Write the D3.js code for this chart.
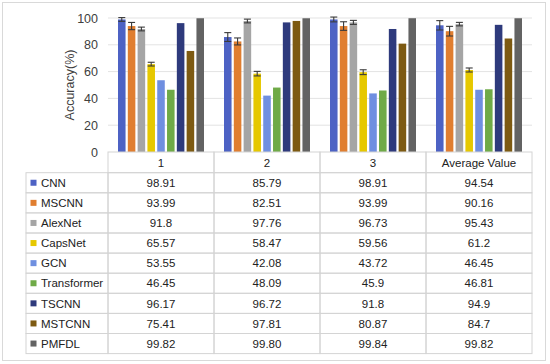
<!DOCTYPE html>
<html><head><meta charset="utf-8">
<script src="https://cdn.jsdelivr.net/npm/d3@7"></script>
<style>body{margin:0;background:#fff}svg{display:block}</style>
</head><body>
<svg id="c" width="550" height="364"></svg>
<script>
const categories = ["1", "2", "3", "Average Value"];
const seriesNames = ["CNN", "MSCNN", "AlexNet", "CapsNet", "GCN", "Transformer", "TSCNN", "MSTCNN", "PMFDL"];
const valueLabels = [
  ["98.91", "85.79", "98.91", "94.54"],
  ["93.99", "82.51", "93.99", "90.16"],
  ["91.8", "97.76", "96.73", "95.43"],
  ["65.57", "58.47", "59.56", "61.2"],
  ["53.55", "42.08", "43.72", "46.45"],
  ["46.45", "48.09", "45.9", "46.81"],
  ["96.17", "96.72", "91.8", "94.9"],
  ["75.41", "97.81", "80.87", "84.7"],
  ["99.82", "99.80", "99.84", "99.82"]
];
const errors = [
  [1.4, 3.3, 1.8, 3.5],
  [2.7, 2.6, 3.2, 3.6],
  [1.4, 1.4, 1.5, 1.3],
  [1.4, 1.7, 1.8, 1.5],
  [0, 0, 0, 0], [0, 0, 0, 0], [0, 0, 0, 0], [0, 0, 0, 0], [0, 0, 0, 0]
];
const yTicks = [0, 20, 40, 60, 80, 100];
const colors = ["#4d62c4", "#e07e30", "#a5a5a5", "#e6c800", "#6f8fe0", "#6faa47", "#2e3a7c", "#7d5a12", "#636363"];

(function () {
const svg = d3.select("#c");
const font = "'Liberation Sans', Arial, sans-serif";

svg.append("rect").attr("x", 2.5).attr("y", 2.5).attr("width", 543).attr("height", 358)
  .attr("fill", "none").attr("stroke", "#d9d9d9");

const pLeft = 108, pRight = 532, pTop = 18, base = 152;
const x0 = d3.scaleBand().domain(categories).range([pLeft, pRight]).padding(0);
const x1 = d3.scaleBand().domain(seriesNames).range([10, 96]).paddingInner(0.23).paddingOuter(0);
const y = d3.scaleLinear().domain([0, 100]).range([base, pTop]);

svg.append("g").selectAll("line").data(yTicks.filter(d => d > 0)).join("line")
  .attr("x1", pLeft).attr("x2", pRight).attr("y1", d => y(d)).attr("y2", d => y(d))
  .attr("stroke", "#e3e3e3").attr("stroke-width", 1);

const yAxis = d3.axisLeft(y).tickValues(yTicks).tickSize(0).tickPadding(10);
const ga = svg.append("g").attr("transform", `translate(${pLeft},0)`).call(yAxis);
ga.select(".domain").remove();
ga.selectAll("text").attr("font-family", font).attr("font-size", 12.5).attr("fill", "#404040");

svg.append("text").attr("transform", `translate(74,${(pTop + base) / 2}) rotate(-90)`)
  .attr("text-anchor", "middle").attr("font-family", font).attr("font-size", 12.5)
  .attr("fill", "#404040").text("Accuracy(%)");

const data = [];
seriesNames.forEach((s, i) => categories.forEach((c, j) => {
  data.push({ s, c, v: +valueLabels[i][j], e: errors[i][j], i });
}));
svg.append("g").selectAll("rect").data(data).join("rect")
  .attr("x", d => x0(d.c) + x1(d.s)).attr("width", x1.bandwidth())
  .attr("y", d => y(d.v)).attr("height", d => base - y(d.v))
  .attr("fill", d => colors[d.i]);

const eb = svg.append("g").attr("stroke", "#3a3a3a").attr("stroke-width", 1.1);
data.filter(d => d.e > 0).forEach(d => {
  const cx = x0(d.c) + x1(d.s) + x1.bandwidth() / 2;
  const y1 = y(d.v + d.e), y2 = y(d.v - d.e);
  eb.append("line").attr("x1", cx).attr("x2", cx).attr("y1", y1).attr("y2", y2);
  eb.append("line").attr("x1", cx - 3.5).attr("x2", cx + 3.5).attr("y1", y1).attr("y2", y1);
  eb.append("line").attr("x1", cx - 3.5).attr("x2", cx + 3.5).attr("y1", y2).attr("y2", y2);
});

const rowH = 20.1, headTop = base, headH = 20.7;
const tabTop = headTop + headH;
const legLeft = 26;
const tg = svg.append("g").attr("font-family", font).attr("font-size", 11.5).attr("fill", "#222");
const stroke = "#d4d4d4";
categories.forEach(c => {
  tg.append("rect").attr("x", x0(c)).attr("y", headTop).attr("width", x0.bandwidth()).attr("height", headH)
    .attr("fill", "none").attr("stroke", stroke);
  tg.append("text").attr("x", x0(c) + x0.bandwidth() / 2).attr("y", headTop + 14.5)
    .attr("text-anchor", "middle").text(c);
});
seriesNames.forEach((s, i) => {
  const ry = tabTop + i * rowH;
  tg.append("rect").attr("x", legLeft).attr("y", ry).attr("width", pLeft - legLeft).attr("height", rowH)
    .attr("fill", "none").attr("stroke", stroke);
  tg.append("rect").attr("x", 30.5).attr("y", ry + rowH / 2 - 3).attr("width", 6).attr("height", 6)
    .attr("fill", colors[i]);
  tg.append("text").attr("x", 41).attr("y", ry + 14.2).text(s);
  categories.forEach((c, j) => {
    tg.append("rect").attr("x", x0(c)).attr("y", ry).attr("width", x0.bandwidth()).attr("height", rowH)
      .attr("fill", "none").attr("stroke", stroke);
    tg.append("text").attr("x", x0(c) + x0.bandwidth() / 2).attr("y", ry + 14.2)
      .attr("text-anchor", "middle").text(valueLabels[i][j]);
  });
});
})();
</script>
</body></html>
